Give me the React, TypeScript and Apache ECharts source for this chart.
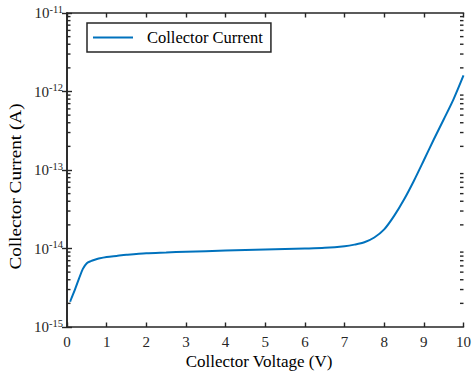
import React, { useEffect, useRef } from "react";
import * as echarts from "echarts";

const voltage = [0.08, 0.1, 0.2, 0.3, 0.4, 0.5, 0.6, 0.7, 0.8, 1.0, 1.25, 1.5, 2, 2.5, 3, 4, 5, 6, 6.5, 7, 7.25, 7.5, 7.75, 8, 8.25, 8.5, 8.75, 9, 9.25, 9.5, 9.75, 10];
const current = [2.1e-15, 2.24e-15, 3.0e-15, 4.1e-15, 5.5e-15, 6.5e-15, 6.9e-15, 7.2e-15, 7.45e-15, 7.8e-15, 8.05e-15, 8.3e-15, 8.7e-15, 8.9e-15, 9.1e-15, 9.4e-15, 9.7e-15, 1.0e-14, 1.02e-14, 1.07e-14, 1.12e-14, 1.2e-14, 1.38e-14, 1.75e-14, 2.6e-14, 4.2e-14, 7.3e-14, 1.33e-13, 2.45e-13, 4.4e-13, 8.0e-13, 1.6e-12];

const xMin = 0;
const xMax = 10;
const yMin = 1e-15;
const yMax = 1e-11;
const yExpMin = -15;
const yExpMax = -11;
const seriesName = "Collector Current";
const xTitle = "Collector Voltage (V)";
const yTitle = "Collector Current (A)";

// minor tick values of the log axis (2..9 × each decade)
const minorTicks: number[] = [];
for (let e = yExpMin; e < yExpMax; e++) {
  for (let k = 2; k <= 9; k++) minorTicks.push(k * Math.pow(10, e));
}

const FONT = "'Liberation Serif', 'Times New Roman', serif";
const AX = "#262626";
const LINE = "#0072BD";

export default function App() {
  const ref = useRef<HTMLDivElement>(null);
  useEffect(() => {
    if (!ref.current) return;
    const chart = echarts.init(ref.current, undefined, { renderer: "svg" });
    const axisLine = { show: true, lineStyle: { color: AX, width: 1.6 } };
    const tickStyle = { color: AX, width: 1.4 };
    chart.setOption({
      animation: false,
      backgroundColor: "#fff",
      grid: { left: 67, right: 7, top: 13, bottom: 45, containLabel: false },
      legend: {
        left: 87,
        top: 23,
        icon: "rect",
        itemWidth: 40,
        itemHeight: 2,
        padding: [6, 8, 6, 6],
        borderColor: AX,
        borderWidth: 1.5,
        backgroundColor: "#fff",
        textStyle: { fontFamily: FONT, fontSize: 16.5, color: "#000", padding: [0, 0, 0, 9] },
        data: [seriesName],
      },
      graphic: [
        {
          type: "text",
          x: 16,
          y: 186.5,
          rotation: Math.PI / 2,
          scaleX: 1.2,
          style: {
            text: yTitle,
            fontFamily: FONT,
            fontSize: 16,
            fill: "#000",
            align: "center",
            verticalAlign: "middle",
          },
        },
        {
          type: "text",
          x: 259,
          y: 361,
          style: {
            text: xTitle,
            fontFamily: FONT,
            fontSize: 17,
            fill: "#000",
            align: "center",
            verticalAlign: "middle",
          },
        },
      ],
      xAxis: [
        {
          type: "value",
          min: xMin,
          max: xMax,
          interval: 1,
          position: "bottom",
          axisLine,
          axisTick: { show: true, inside: true, length: 4.5, lineStyle: tickStyle },
          axisLabel: { margin: 7, fontSize: 15, color: AX, fontFamily: FONT },
          splitLine: { show: false },
        },
        {
          type: "value",
          min: xMin,
          max: xMax,
          interval: 1,
          position: "top",
          axisLine,
          axisTick: { show: true, inside: true, length: 4.5, lineStyle: tickStyle },
          axisLabel: { show: false },
          splitLine: { show: false },
        },
      ],
      yAxis: [
        {
          type: "log",
          logBase: 10,
          min: yMin,
          max: yMax,
          position: "left",
          axisLine,
          axisTick: { show: true, inside: true, length: 5, lineStyle: tickStyle },
          axisLabel: {
            margin: 4,
            color: AX,
            fontFamily: FONT,
            formatter: (v: number) => `{b|10}{s|${Math.round(Math.log10(v))}}`,
            rich: {
              b: { fontSize: 15, fontFamily: FONT, color: AX },
              s: { fontSize: 10.5, fontFamily: FONT, color: AX, padding: [0, 0, 8, 0] },
            },
          },
          splitLine: { show: false },
        },
        {
          type: "log",
          logBase: 10,
          min: yMin,
          max: yMax,
          position: "right",
          axisLine,
          axisTick: { show: true, inside: true, length: 5, lineStyle: tickStyle },
          axisLabel: { show: false },
          splitLine: { show: false },
        },
      ],
      series: [
        {
          name: "minor-ticks",
          type: "custom",
          xAxisIndex: 0,
          yAxisIndex: 0,
          silent: true,
          clip: false,
          z: 5,
          encode: { x: 0, y: 1 },
          data: minorTicks.map((v) => [xMin, v]),
          renderItem: (params: any, api: any) => {
            const cs = params.coordSys;
            const p = api.coord([xMin, api.value(1)]);
            const y = p[1];
            const L = 3.5;
            const st = { stroke: AX, lineWidth: 1.4 };
            return {
              type: "group",
              children: [
                { type: "line", shape: { x1: cs.x, y1: y, x2: cs.x + L, y2: y }, style: st },
                { type: "line", shape: { x1: cs.x + cs.width - L, y1: y, x2: cs.x + cs.width, y2: y }, style: st },
              ],
            };
          },
        },
        {
          name: seriesName,
          type: "line",
          xAxisIndex: 0,
          yAxisIndex: 0,
          data: voltage.map((v, i) => [v, current[i]]),
          symbol: "none",
          showSymbol: false,
          smooth: 0.3,
          color: LINE,
          itemStyle: { color: LINE },
          lineStyle: { color: LINE, width: 2 },
        },
      ],
    });
    return () => chart.dispose();
  }, []);
  return (
    <div
      ref={ref}
      style={{ position: "absolute", left: 0, top: 0, width: 474, height: 372, background: "#fff" }}
    />
  );
}
